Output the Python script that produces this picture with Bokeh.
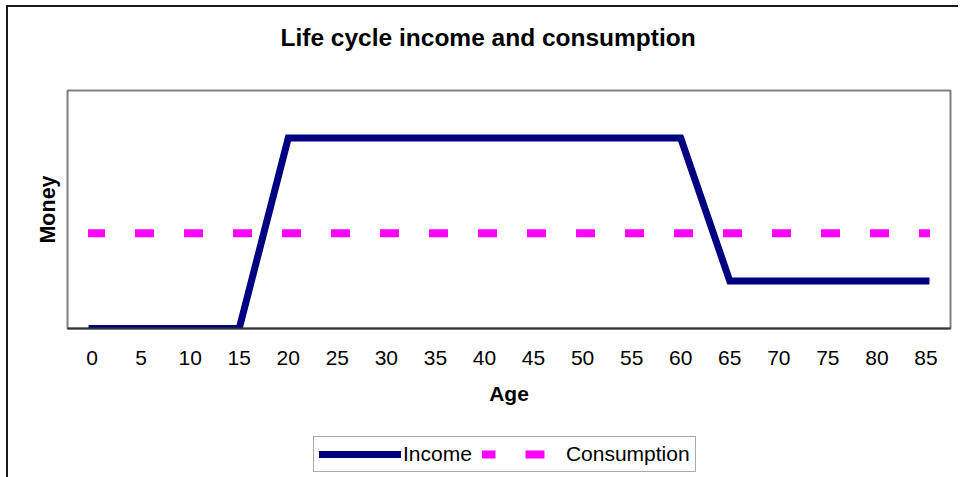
from bokeh.plotting import figure
from bokeh.models import FixedTicker, Legend, LegendItem, Range1d
from bokeh.layouts import column
from bokeh.embed import file_html
from bokeh.resources import INLINE

# ---- data ----
ages = [0, 5, 10, 15, 20, 25, 30, 35, 40, 45, 50, 55, 60, 65, 70, 75, 80, 85]
income = [0, 0, 0, 0, 4, 4, 4, 4, 4, 4, 4, 4, 4, 1, 1, 1, 1, 1]
consumption = [2, 2, 2, 2, 2, 2, 2, 2, 2, 2, 2, 2, 2, 2, 2, 2, 2, 2]
tick_labels = {a: str(a) for a in ages}
title_text = "Life cycle income and consumption"

FONT = "Liberation Sans"
INC_STYLE = dict(line_color="#000080", line_width=7, line_cap="square", line_join="miter")
CON_STYLE = dict(line_color="#FF00FF", line_width=8, line_dash="11 38",
                 line_dash_offset=2, line_cap="square")

# ---- title strip ----
p0 = figure(
    width=950, height=67,
    output_backend="svg", toolbar_location=None,
    x_range=Range1d(0, 1), y_range=Range1d(0, 1),
    x_axis_location=None, y_axis_location=None,
    min_border=0, outline_line_color=None,
    background_fill_color="white", border_fill_color="white",
)
p0.grid.visible = False
p0.title.text = title_text
p0.title.text_font = FONT
p0.title.text_font_size = "24.5px"
p0.title.text_font_style = "bold"
p0.title.text_color = "black"
p0.title.align = "left"
p0.title.offset = 213
p0.title.standoff = 28

# ---- main chart ----
p = figure(
    width=950, height=356,
    output_backend="svg", toolbar_location=None,
    x_range=Range1d(-2.5, 87.5), y_range=Range1d(0, 5),
    min_border_left=59, min_border_right=8,
    min_border_top=16, min_border_bottom=102,
    background_fill_color="white", border_fill_color="white",
)
p.outline_line_color = "#808080"
p.outline_line_width = 2
p.xgrid.visible = False
p.ygrid.visible = False

# x axis
p.xaxis.ticker = FixedTicker(ticks=ages)
p.xaxis.major_label_overrides = tick_labels
p.xaxis.major_tick_in = 0
p.xaxis.major_tick_out = 0
p.xaxis.minor_tick_in = 0
p.xaxis.minor_tick_out = 0
p.xaxis.major_label_standoff = 22
p.xaxis.major_label_text_font = FONT
p.xaxis.major_label_text_font_size = "21px"
p.xaxis.major_label_text_color = "black"
p.xaxis.axis_line_color = "#333333"
p.xaxis.axis_line_width = 2
p.xaxis.axis_label = "Age"
p.xaxis.axis_label_text_font = FONT
p.xaxis.axis_label_text_font_size = "21px"
p.xaxis.axis_label_text_font_style = "bold"
p.xaxis.axis_label_text_color = "black"
p.xaxis.axis_label_standoff = 14

# y axis
p.yaxis.ticker = FixedTicker(ticks=[])
p.yaxis.major_tick_in = 0
p.yaxis.major_tick_out = 0
p.yaxis.minor_tick_in = 0
p.yaxis.minor_tick_out = 0
p.yaxis.major_label_standoff = 0
p.yaxis.axis_line_color = None
p.yaxis.axis_label = "Money"
p.yaxis.axis_label_text_font = FONT
p.yaxis.axis_label_text_font_size = "21.5px"
p.yaxis.axis_label_text_font_style = "bold"
p.yaxis.axis_label_text_color = "black"
p.yaxis.axis_label_standoff = 8

# series
p.line(ages, income, **INC_STYLE)
p.line(ages, consumption, **CON_STYLE)

# ---- legend strip (below the chart); its series lie outside its view ----
p2 = figure(
    width=950, height=47,
    output_backend="svg", toolbar_location=None,
    x_range=Range1d(-2.5, 87.5), y_range=Range1d(10, 11),
    x_axis_location=None, y_axis_location=None,
    min_border=0, outline_line_color=None,
    background_fill_color="white", border_fill_color="white",
)
p2.grid.visible = False
k_inc = p2.line(ages, income, **INC_STYLE)
k_con = p2.line(ages, consumption, **CON_STYLE)

legend = Legend(
    items=[LegendItem(label="Income", renderers=[k_inc]),
           LegendItem(label="Consumption", renderers=[k_con])],
    orientation="horizontal",
    location=(246, 5),
    glyph_width=82, glyph_height=20,
    label_standoff=2, spacing=10, padding=5, margin=0,
    label_height=24,
    label_text_font=FONT, label_text_font_size="21px", label_text_color="black",
    border_line_color="#555555", border_line_width=1.5,
    background_fill_color="white", background_fill_alpha=1.0,
)
p2.add_layout(legend, "center")

layout = column(
    p0, p, p2, spacing=0,
    styles={"margin-left": "6px", "margin-top": "5px",
            "border-top": "2px solid #1a1a1a", "border-left": "2px solid #1a1a1a"},
)

open("out.html", "w").write(file_html(layout, INLINE))
